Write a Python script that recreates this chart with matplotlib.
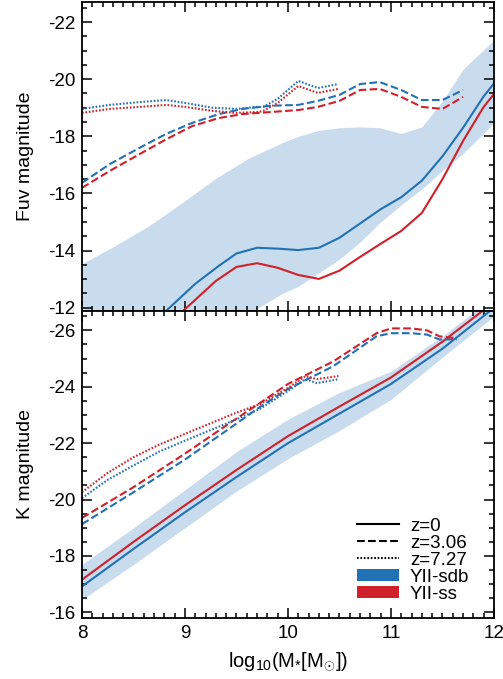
import matplotlib
matplotlib.use('Agg')
import matplotlib.pyplot as plt
from matplotlib.lines import Line2D
from matplotlib.patches import Patch
from matplotlib.ticker import MultipleLocator

plt.rcParams['font.family'] = ['Liberation Sans', 'DejaVu Sans']
plt.rcParams['mathtext.fontset'] = 'custom'
plt.rcParams['mathtext.rm'] = 'Liberation Sans'
plt.rcParams['mathtext.it'] = 'Liberation Sans'

BLUE = '#2171b5'
RED = '#d0202a'
BAND = '#c9dcee'

# ---- Fuv panel data ----
fuv_band_x = [8.0, 8.32, 8.65, 8.97, 9.29, 9.62, 9.94, 10.1, 10.29, 10.5, 10.7, 10.89, 11.1, 11.3, 11.5, 11.7, 12.0]
fuv_band_hi = [-13.54, -14.17, -14.87, -15.67, -16.51, -17.24, -17.77, -18.0, -18.2, -18.3, -18.33, -18.3, -18.1, -18.33, -19.24, -20.35, -21.37]
fuv_band_lo = [-10.5, -10.7, -10.9, -11.1, -11.4, -11.8, -12.49, -12.75, -13.2, -13.7, -14.3, -14.97, -15.6, -16.16, -16.8, -17.4, -18.47]

fuv_z0_sdb_x = [8.7, 8.9, 9.1, 9.33, 9.5, 9.7, 9.9, 10.1, 10.3, 10.5, 10.7, 10.9, 11.1, 11.3, 11.5, 11.7, 11.9, 12.0]
fuv_z0_sdb = [-11.5, -12.17, -12.84, -13.47, -13.9, -14.1, -14.07, -14.02, -14.1, -14.45, -14.95, -15.45, -15.87, -16.45, -17.3, -18.3, -19.4, -19.85]
fuv_z0_ss_x = [8.8, 9.0, 9.3, 9.5, 9.7, 9.9, 10.1, 10.3, 10.5, 10.7, 10.9, 11.1, 11.3, 11.5, 11.7, 11.9, 12.0]
fuv_z0_ss = [-11.3, -11.95, -12.94, -13.43, -13.56, -13.4, -13.15, -13.01, -13.3, -13.78, -14.24, -14.69, -15.32, -16.5, -17.84, -19.03, -19.48]

fuv_z3_x = [8.0, 8.27, 8.56, 8.82, 9.07, 9.33, 9.56, 9.83, 10.1, 10.29, 10.5, 10.7, 10.89, 11.1, 11.3, 11.5, 11.7]
fuv_z3_sdb = [-16.37, -17.03, -17.6, -18.09, -18.47, -18.78, -18.96, -19.07, -19.1, -19.24, -19.45, -19.83, -19.9, -19.62, -19.27, -19.27, -19.62]
fuv_z3_ss = [-16.2, -16.79, -17.38, -17.9, -18.36, -18.64, -18.78, -18.85, -18.92, -19.03, -19.24, -19.62, -19.66, -19.38, -19.03, -18.96, -19.38]

fuv_z7_x = [8.0, 8.27, 8.56, 8.82, 9.0, 9.27, 9.5, 9.7, 9.76, 9.9, 10.1, 10.29, 10.49]
fuv_z7_sdb = [-18.96, -19.1, -19.2, -19.27, -19.17, -19.0, -18.96, -19.03, -19.03, -19.31, -19.94, -19.69, -19.83]
fuv_z7_ss = [-18.82, -18.96, -19.03, -19.1, -19.03, -18.89, -18.82, -18.85, -18.89, -19.17, -19.76, -19.52, -19.66]

# ---- K panel data ----
k_band_x = [8.0, 8.5, 9.0, 9.5, 10.0, 10.5, 11.0, 11.5, 12.0]
k_band_hi = [-17.7, -19.0, -20.35, -21.7, -22.85, -23.8, -24.55, -25.8, -27.2]
k_band_lo = [-16.45, -17.7, -19.0, -20.3, -21.45, -22.45, -23.55, -25.05, -26.5]

k_z0_x = [8.0, 8.5, 9.0, 9.5, 10.0, 10.5, 11.0, 11.5, 12.0]
k_z0_sdb = [-16.92, -18.25, -19.55, -20.8, -22.0, -23.05, -24.1, -25.35, -26.8]
k_z0_ss = [-17.16, -18.5, -19.8, -21.05, -22.25, -23.3, -24.33, -25.6, -27.0]

k_z3_x = [8.0, 8.5, 9.0, 9.47, 9.73, 10.0, 10.44, 10.86, 11.0, 11.2, 11.35, 11.47, 11.64]
k_z3_sdb = [-19.13, -20.26, -21.42, -22.62, -23.29, -23.92, -24.73, -25.79, -25.9, -25.9, -25.85, -25.68, -25.68]
k_z3_ss = [-19.35, -20.44, -21.63, -22.8, -23.43, -24.1, -24.9, -25.9, -26.07, -26.07, -26.0, -25.79, -25.72]

k_z7_x = [8.0, 8.25, 8.5, 8.75, 9.0, 9.47, 9.73, 10.0, 10.17, 10.28, 10.49]
k_z7_sdb = [-20.05, -20.7, -21.21, -21.7, -22.09, -22.8, -23.22, -23.85, -24.27, -24.13, -24.27]
k_z7_ss = [-20.26, -20.95, -21.5, -21.95, -22.33, -23.04, -23.39, -23.96, -24.38, -24.27, -24.38]

DOT = (0, (0.8, 0.85))
LW = 1.5

fig = plt.figure(figsize=(5.03, 6.79), dpi=100)
ax1 = fig.add_axes([0.163, 0.5425, 0.819, 0.4545])
ax2 = fig.add_axes([0.163, 0.0898, 0.819, 0.4527])

# top panel
ax1.fill_between(fuv_band_x, fuv_band_lo, fuv_band_hi, color=BAND, lw=0)
ax1.plot(fuv_z0_sdb_x, fuv_z0_sdb, color=BLUE, lw=LW)
ax1.plot(fuv_z0_ss_x, fuv_z0_ss, color=RED, lw=LW)
ax1.plot(fuv_z3_x, fuv_z3_sdb, color=BLUE, lw=LW, ls='--')
ax1.plot(fuv_z3_x, fuv_z3_ss, color=RED, lw=LW, ls='--')
ax1.plot(fuv_z7_x, fuv_z7_sdb, color=BLUE, lw=LW, ls=DOT)
ax1.plot(fuv_z7_x, fuv_z7_ss, color=RED, lw=LW, ls=DOT)
ax1.set_ylim(-11.9, -22.7)
ax1.set_ylabel('Fuv magnitude', fontsize=14, labelpad=10)
ax1.set_yticks([-22, -20, -18, -16, -14, -12])
ax1.set_yticklabels(['-22', '-20', '-18', '-16', '-14', '-12'])
ax1.tick_params(labelbottom=False)

# bottom panel
ax2.fill_between(k_band_x, k_band_lo, k_band_hi, color=BAND, lw=0)
ax2.plot(k_z0_x, k_z0_sdb, color=BLUE, lw=LW)
ax2.plot(k_z0_x, k_z0_ss, color=RED, lw=LW)
ax2.plot(k_z3_x, k_z3_sdb, color=BLUE, lw=LW, ls='--')
ax2.plot(k_z3_x, k_z3_ss, color=RED, lw=LW, ls='--')
ax2.plot(k_z7_x, k_z7_sdb, color=BLUE, lw=LW, ls=DOT)
ax2.plot(k_z7_x, k_z7_ss, color=RED, lw=LW, ls=DOT)
ax2.set_ylim(-15.8, -26.7)
ax2.set_ylabel('K magnitude', fontsize=14, labelpad=10)
ax2.set_yticks([-26, -24, -22, -20, -18, -16])
ax2.set_yticklabels(['-26', '-24', '-22', '-20', '-18', '-16'])
ax2.set_xticks([8, 9, 10, 11, 12])
ax2.set_xlabel(r'log$_{10}$(M$_{*}$[M$_{\odot}$])', fontsize=14.5, labelpad=6)

for ax in (ax1, ax2):
    ax.set_xlim(8, 12)
    ax.xaxis.set_minor_locator(MultipleLocator(0.1))
    ax.yaxis.set_minor_locator(MultipleLocator(0.5))
    ax.tick_params(which='both', direction='in', top=True, right=True, labelsize=13.5, width=1.1)
    ax.tick_params(which='major', length=7, pad=5)
    ax.tick_params(which='minor', length=3.5)
    for s in ax.spines.values():
        s.set_linewidth(1.3)

handles = [
    Line2D([], [], color='black', lw=LW, ls='-'),
    Line2D([], [], color='black', lw=LW, ls='--'),
    Line2D([], [], color='black', lw=LW, ls=DOT),
    Patch(facecolor=BLUE, edgecolor='none'),
    Patch(facecolor=RED, edgecolor='none'),
]
labels = ['z=0', 'z=3.06', 'z=7.27', 'YII-sdb', 'YII-ss']
ax2.legend(handles, labels, loc='lower right', frameon=False, fontsize=13.5,
           handlelength=2.2, handleheight=0.6, labelspacing=0.0,
           handletextpad=0.6, borderpad=0, borderaxespad=0,
           bbox_to_anchor=(0.94, 0.05))

fig.savefig('out.png', dpi=100)
